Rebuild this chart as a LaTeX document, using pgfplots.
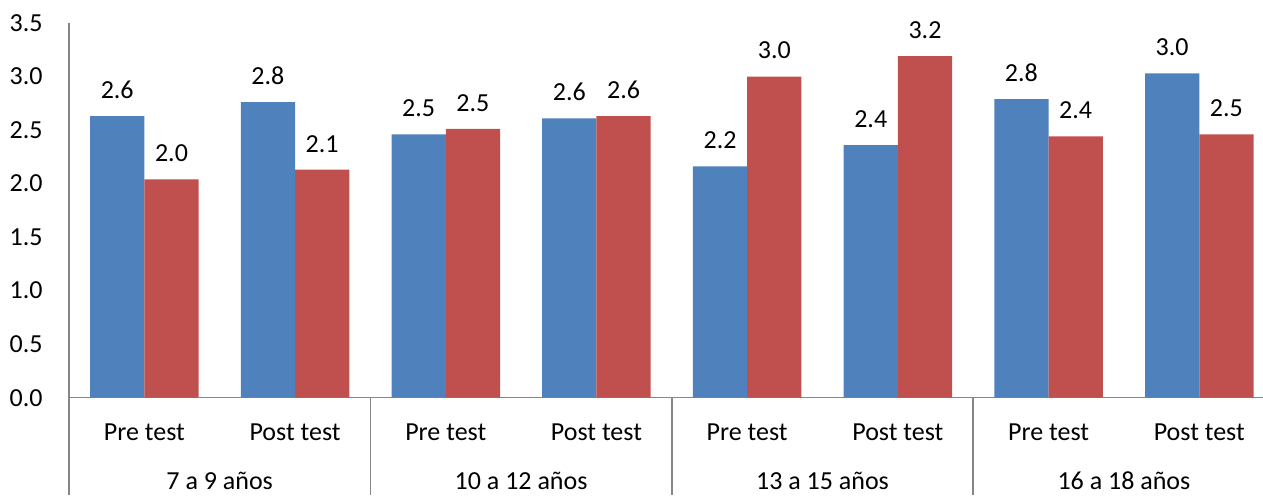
\documentclass[border=0pt]{standalone}
\usepackage{pgfplots}
\pgfplotsset{compat=1.18}
\usepackage{fontspec}
\setmainfont{Carlito}
\definecolor{serieA}{HTML}{4F81BD}
\definecolor{serieB}{HTML}{C0504D}
\definecolor{axisgray}{HTML}{868686}

\begin{document}
\fontsize{13pt}{15pt}\selectfont
\begin{tikzpicture}
\path[use as bounding box] (-34.5pt,-48.65pt) rectangle (597pt,198.85pt);
\begin{axis}[
  at={(0,0)}, anchor=south west,
  scale only axis, width=597pt, height=187.35pt,
  ybar=0pt, bar width=0.36,
  xmin=-0.5, xmax=7.423, ymin=0, ymax=3.5,
  clip=false,
  axis x line=bottom, axis y line=left,
  axis line style={-, draw=axisgray, line width=0.75pt},
  xtick={0,...,7},
  xticklabels={Pre test, Post test, Pre test, Post test, Pre test, Post test, Pre test, Post test},
  ytick={0,0.5,...,3.5},
  major tick length=0pt,
  tick style={draw=none},
  /pgf/number format/assume math mode=true,
  yticklabel style={/pgf/number format/fixed, /pgf/number format/fixed zerofill,
    /pgf/number format/precision=1, anchor=east, inner sep=0pt, xshift=-13pt},
  xticklabel style={anchor=base, inner sep=0pt, yshift=-21.15pt},
  nodes near coords,
  every node near coord/.append style={anchor=south, inner sep=0pt, yshift=8.5pt,
    /pgf/number format/fixed, /pgf/number format/fixed zerofill,
    /pgf/number format/precision=1, text=black},
]
% Pre/post test scores per age group
\addplot[fill=serieA, draw=none] coordinates {
  (0,2.63) (1,2.76) (2,2.46) (3,2.61) (4,2.16) (5,2.36) (6,2.79) (7,3.03)};
\addplot[fill=serieB, draw=none] coordinates {
  (0,2.04) (1,2.13) (2,2.51) (3,2.63) (4,3.00) (5,3.19) (6,2.44) (7,2.46)};

% group separators below the category axis
\pgfplotsinvokeforeach{-0.5,1.5,3.5,5.5}{
  \draw[axisgray, line width=0.75pt] (axis cs:#1,0) -- ([yshift=-48.65pt]axis cs:#1,0);
}
% age group labels
\node[anchor=base, inner sep=0pt, yshift=-46pt] at (axis cs:0.5,0) {7 a 9 años};
\node[anchor=base, inner sep=0pt, yshift=-46pt] at (axis cs:2.5,0) {10 a 12 años};
\node[anchor=base, inner sep=0pt, yshift=-46pt] at (axis cs:4.5,0) {13 a 15 años};
\node[anchor=base, inner sep=0pt, yshift=-46pt] at (axis cs:6.5,0) {16 a 18 años};
\end{axis}
\end{tikzpicture}
\end{document}
